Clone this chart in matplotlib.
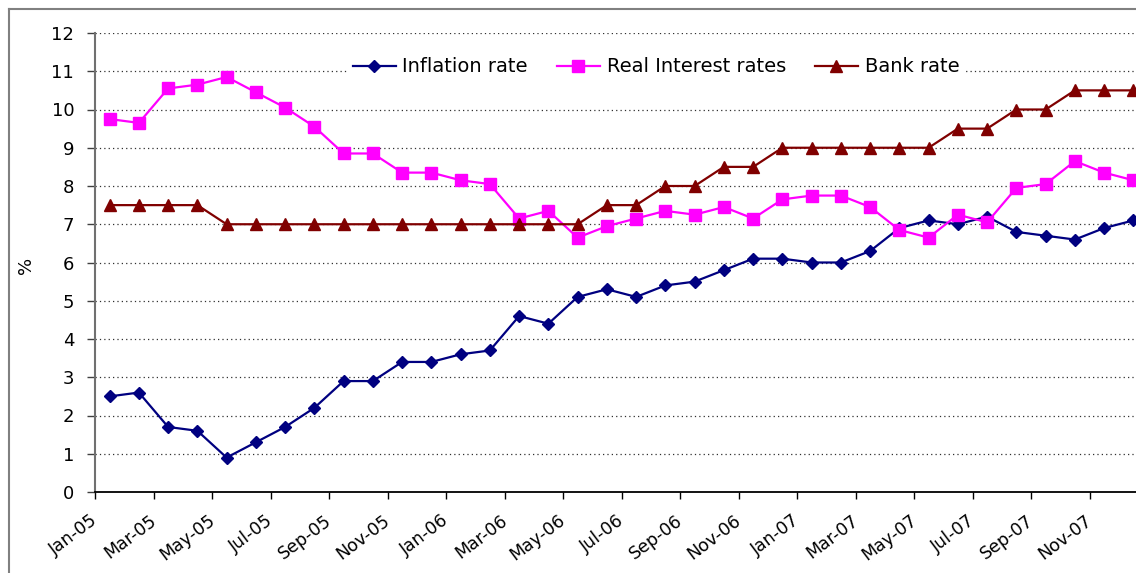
import matplotlib
matplotlib.use("Agg")
import matplotlib.pyplot as plt
from matplotlib.lines import Line2D
import matplotlib.transforms as mtransforms

months = ["Jan-05", "Feb-05", "Mar-05", "Apr-05", "May-05", "Jun-05", "Jul-05", "Aug-05",
          "Sep-05", "Oct-05", "Nov-05", "Dec-05", "Jan-06", "Feb-06", "Mar-06", "Apr-06",
          "May-06", "Jun-06", "Jul-06", "Aug-06", "Sep-06", "Oct-06", "Nov-06", "Dec-06",
          "Jan-07", "Feb-07", "Mar-07", "Apr-07", "May-07", "Jun-07", "Jul-07", "Aug-07",
          "Sep-07", "Oct-07", "Nov-07", "Dec-07"]

inflation = [2.5, 2.6, 1.7, 1.6, 0.9, 1.3, 1.7, 2.2, 2.9, 2.9, 3.4, 3.4,
             3.6, 3.7, 4.6, 4.4, 5.1, 5.3, 5.1, 5.4, 5.5, 5.8, 6.1, 6.1,
             6.0, 6.0, 6.3, 6.9, 7.1, 7.0, 7.2, 6.8, 6.7, 6.6, 6.9, 7.1]

real_interest = [9.75, 9.65, 10.55, 10.65, 10.85, 10.45, 10.05, 9.55, 8.85, 8.85, 8.35, 8.35,
                 8.15, 8.05, 7.15, 7.35, 6.65, 6.95, 7.15, 7.35, 7.25, 7.45, 7.15, 7.65,
                 7.75, 7.75, 7.45, 6.85, 6.65, 7.25, 7.05, 7.95, 8.05, 8.65, 8.35, 8.15]

bank_rate = [7.5, 7.5, 7.5, 7.5, 7.0, 7.0, 7.0, 7.0, 7.0, 7.0, 7.0, 7.0,
             7.0, 7.0, 7.0, 7.0, 7.0, 7.5, 7.5, 8.0, 8.0, 8.5, 8.5, 9.0,
             9.0, 9.0, 9.0, 9.0, 9.0, 9.5, 9.5, 10.0, 10.0, 10.5, 10.5, 10.5]

series_names = ["Inflation rate", "Real Interest rates", "Bank rate"]
y_ticks = list(range(0, 13))

W, H = 1136, 573
fig = plt.figure(figsize=(W / 100, H / 100), dpi=100)
ax = fig.add_axes([95 / W, (H - 492) / H, (W - 95) / W, (492 - 33) / H])

x = [i + 0.5 for i in range(len(months))]

ax.plot(x, inflation, color="#000080", lw=1.6, marker="D", ms=6.6,
        label=series_names[0], zorder=3)
ax.plot(x, real_interest, color="#FF00FF", lw=1.6, marker="s", ms=8.2,
        label=series_names[1], zorder=3)
ax.plot(x, bank_rate, color="#800000", lw=1.6, marker="^", ms=8.8,
        label=series_names[2], zorder=3)

ax.set_xlim(0, (W - 95) / 29.25)
ax.set_ylim(0, 12)
ax.set_yticks(y_ticks)
ax.set_yticklabels([str(v) for v in y_ticks], fontsize=13)
ax.tick_params(axis="y", length=6, width=1, color="#404040", pad=9, direction="out")

ax.set_xticks(list(range(0, len(months), 2)))
ax.set_xticklabels(months[::2], rotation=37, ha="right", va="top", fontsize=12.5)
ax.tick_params(axis="x", length=5, width=1, color="black", pad=9, direction="out")
offset = mtransforms.ScaledTranslation(6 / 100, 0, fig.dpi_scale_trans)
for lab in ax.get_xticklabels():
    lab.set_transform(lab.get_transform() + offset)

for v in range(1, 13):
    ax.axhline(v, color="#303030", lw=0.9, ls=(0, (1, 2.5)), zorder=1)

ax.spines["top"].set_visible(False)
ax.spines["right"].set_visible(False)
ax.spines["left"].set_color("#707070")
ax.spines["left"].set_linewidth(1.5)
ax.spines["bottom"].set_color("black")
ax.spines["bottom"].set_linewidth(1.3)

ax.set_ylabel("%", fontsize=13)
ax.yaxis.set_label_coords(-60 / (W - 95), (492 - 265) / (492 - 33))

leg = ax.legend(loc="center", bbox_to_anchor=((656 - 95) / (W - 95), (492 - 67) / (492 - 33)),
                ncol=3, fontsize=14, frameon=True, facecolor="white", edgecolor="none",
                framealpha=1, handlelength=2.2, handletextpad=0.35, columnspacing=1.5,
                borderpad=0.3, borderaxespad=0)
leg.set_zorder(5)

# outer chart frame
fig.add_artist(Line2D([9 / W, 1.0], [1 - 9 / H, 1 - 9 / H], color="#808080", lw=1.5,
                      transform=fig.transFigure))
fig.add_artist(Line2D([9 / W, 9 / W], [0, 1 - 9 / H], color="#808080", lw=1.5,
                      transform=fig.transFigure))

fig.savefig("out.png", dpi=100)
